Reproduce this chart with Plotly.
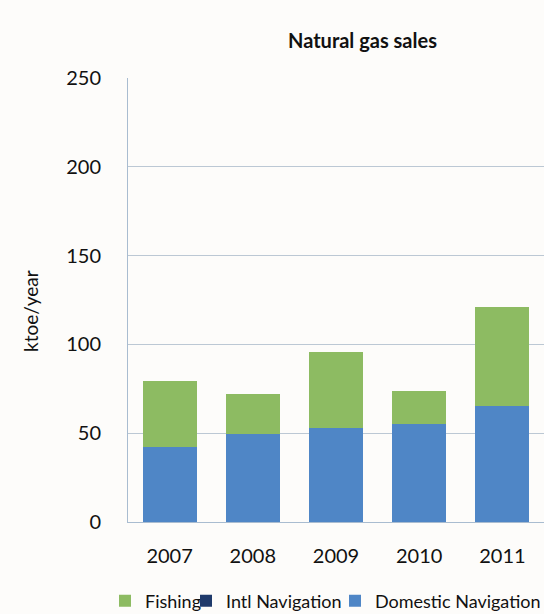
import plotly.graph_objects as go

years = ["2007", "2008", "2009", "2010", "2011"]
domestic = [42.1, 49.4, 52.8, 55.4, 65.5]
intl = [0, 0, 0, 0, 0]
fishing = [37.1, 22.5, 42.9, 18.4, 55.8]
yticks = [0, 50, 100, 150, 200, 250]

FONT = "Lato"
W, H = 544, 614
L, R, T, B = 128, 0, 78, 614 - 522
pw = W - L - R
ph = H - T - B

def px_x(sx):
    return (sx - L) / pw

def px_y(sy):
    return (T + ph - sy) / ph

fig = go.Figure()
fig.add_trace(go.Bar(x=years, y=domestic, name="Domestic Navigation", legend="legend3",
                     marker=dict(color="#4F86C6", line=dict(width=0))))
fig.add_trace(go.Bar(x=years, y=intl, name="Intl Navigation", legend="legend2",
                     marker=dict(color="#1F3A6B", line=dict(width=0))))
fig.add_trace(go.Bar(x=years, y=fishing, name="Fishing", legend="legend",
                     marker=dict(color="#8DBB62", line=dict(width=0))))

leg_common = dict(orientation="h", xanchor="left", yanchor="middle", y=px_y(601),
                  font=dict(size=18, family=FONT), itemwidth=30, bgcolor="rgba(0,0,0,0)")

fig.update_layout(
    width=W, height=H,
    barmode="stack", bargap=0.35,
    paper_bgcolor="#FDFCFA", plot_bgcolor="#FDFCFA",
    margin=dict(l=L, r=R, t=T, b=B, autoexpand=False),
    font=dict(family=FONT, color="#111111", size=17),
    showlegend=True,
    legend=dict(x=px_x(105), **leg_common),
    legend2=dict(x=px_x(186), **leg_common),
    legend3=dict(x=px_x(335), **leg_common),
    xaxis=dict(showline=True, linecolor="#A9BCD0", linewidth=1, ticks="", showgrid=False,
               tickfont=dict(size=20), ticklabelstandoff=16),
    yaxis=dict(range=[0, 250], tickvals=yticks, showgrid=True, gridcolor="#BCC8D4", gridwidth=1,
               showline=True, linecolor="#A9BCD0", linewidth=1, zeroline=False, ticks="",
               tickfont=dict(size=20), ticklabelstandoff=22),
    annotations=[
        dict(text="<b>Natural gas sales</b>", xref="paper", yref="paper",
             x=px_x(362), y=px_y(40), xanchor="center", yanchor="middle",
             showarrow=False, font=dict(size=20, family=FONT)),
        dict(text="ktoe/year", xref="paper", yref="paper", textangle=-90,
             x=px_x(30), y=px_y(311), xanchor="center", yanchor="middle",
             showarrow=False, font=dict(size=19, family=FONT)),
    ],
)

fig.write_html(
    "out.html",
    config={"displayModeBar": False},
    post_script="document.body.style.margin='0';document.body.style.overflow='hidden';",
)
